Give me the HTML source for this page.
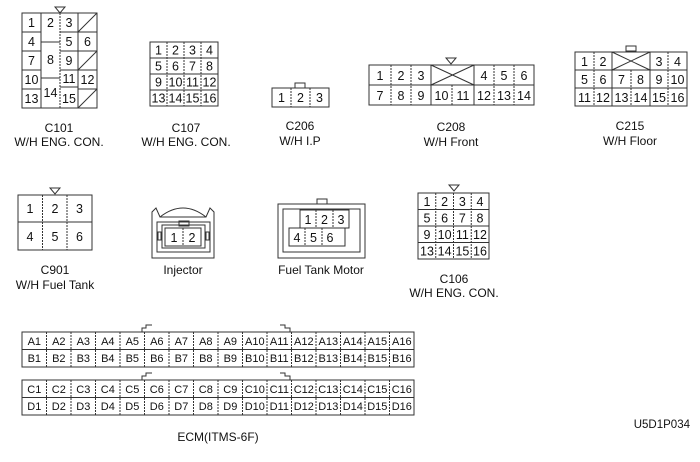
<!DOCTYPE html>
<html><head><meta charset="utf-8"><style>
html,body{margin:0;padding:0;background:#fff}
svg{display:block}
text{font-family:"Liberation Sans",sans-serif;fill:#111}
.g text{font-size:12.5px;text-anchor:middle}
.e text{font-size:11px;text-anchor:middle}
.l{font-size:12px;text-anchor:middle}
line,rect,path,polygon{stroke:#333;stroke-width:1;fill:none}
.d{stroke-dasharray:2,1}
</style></head><body>
<svg width="700" height="462" viewBox="0 0 700 462" xmlns="http://www.w3.org/2000/svg">
<!-- C101 -->
<g class="g">
<rect x="22" y="13" width="75" height="95"/>
<polygon points="55,7 65,7 60,13"/>
<line x1="41" y1="13" x2="41" y2="108"/>
<line class="d" x1="60" y1="13" x2="60" y2="108"/>
<line x1="78" y1="13" x2="78" y2="108"/>
<line x1="22" y1="32" x2="41" y2="32"/><line x1="60" y1="32" x2="97" y2="32"/>
<line x1="22" y1="51" x2="41" y2="51"/><line x1="60" y1="51" x2="97" y2="51"/>
<line x1="22" y1="70" x2="41" y2="70"/><line x1="60" y1="70" x2="97" y2="70"/>
<line x1="22" y1="89" x2="41" y2="89"/><line x1="60" y1="87" x2="78" y2="87"/><line x1="78" y1="89" x2="97" y2="89"/>
<line x1="41" y1="42" x2="60" y2="42"/><line x1="41" y1="78" x2="60" y2="78"/>
<line x1="78" y1="32" x2="97" y2="13"/><line x1="78" y1="70" x2="97" y2="51"/><line x1="78" y1="108" x2="97" y2="89"/>
<text x="31.5" y="27">1</text><text x="50.5" y="27">2</text><text x="69" y="27">3</text>
<text x="31.5" y="46">4</text><text x="69" y="46">5</text><text x="87.5" y="46">6</text>
<text x="31.5" y="65">7</text><text x="50.5" y="64">8</text><text x="69" y="65">9</text>
<text x="31.5" y="84">10</text><text x="50.5" y="97">14</text><text x="69" y="83">11</text><text x="87.5" y="84">12</text>
<text x="31.5" y="103">13</text><text x="69" y="103">15</text>
</g>
<text class="l" x="59" y="132">C101</text><text class="l" x="59" y="146">W/H ENG. CON.</text>
<!-- C107 -->
<g class="g">
<rect x="150" y="42" width="68" height="64"/>
<line class="d" x1="167" y1="42" x2="167" y2="106"/><line class="d" x1="184" y1="42" x2="184" y2="106"/><line class="d" x1="201" y1="42" x2="201" y2="106"/>
<line x1="150" y1="58" x2="218" y2="58"/><line x1="150" y1="74" x2="218" y2="74"/><line x1="150" y1="90" x2="218" y2="90"/>
<text x="158.5" y="54.5">1</text><text x="175.5" y="54.5">2</text><text x="192.5" y="54.5">3</text><text x="209.5" y="54.5">4</text>
<text x="158.5" y="70.5">5</text><text x="175.5" y="70.5">6</text><text x="192.5" y="70.5">7</text><text x="209.5" y="70.5">8</text>
<text x="158.5" y="86.5">9</text><text x="175.5" y="86.5">10</text><text x="192.5" y="86.5">11</text><text x="209.5" y="86.5">12</text>
<text x="158.5" y="102.5">13</text><text x="175.5" y="102.5">14</text><text x="192.5" y="102.5">15</text><text x="209.5" y="102.5">16</text>
</g>
<text class="l" x="186" y="132">C107</text><text class="l" x="186" y="146">W/H ENG. CON.</text>
<!-- C206 -->
<g class="g">
<rect x="272" y="88" width="57" height="19"/><rect x="295" y="83" width="10" height="5"/>
<line class="d" x1="291" y1="88" x2="291" y2="107"/><line class="d" x1="310" y1="88" x2="310" y2="107"/>
<text x="281.5" y="102">1</text><text x="300.5" y="102">2</text><text x="319.5" y="102">3</text>
</g>
<text class="l" x="300" y="130">C206</text><text class="l" x="300" y="145">W/H I.P</text>
<!-- C208 -->
<g class="g">
<rect x="369" y="65" width="165" height="40"/>
<polygon points="446,58 456,58 451,64"/>
<line x1="369" y1="85" x2="534" y2="85"/>
<line class="d" x1="391" y1="65" x2="391" y2="105"/><line class="d" x1="411" y1="65" x2="411" y2="105"/><line x1="431" y1="65" x2="431" y2="105"/>
<line class="d" x1="452" y1="85" x2="452" y2="105"/><line x1="474" y1="65" x2="474" y2="105"/><line class="d" x1="494" y1="65" x2="494" y2="105"/><line class="d" x1="514" y1="65" x2="514" y2="105"/>
<line x1="431" y1="65" x2="474" y2="85"/><line x1="431" y1="85" x2="474" y2="65"/>
<text x="380" y="80">1</text><text x="401" y="80">2</text><text x="421" y="80">3</text><text x="484" y="80">4</text><text x="504" y="80">5</text><text x="524" y="80">6</text>
<text x="380" y="100">7</text><text x="401" y="100">8</text><text x="421" y="100">9</text><text x="441.5" y="100">10</text><text x="463" y="100">11</text><text x="484" y="100">12</text><text x="504" y="100">13</text><text x="524" y="100">14</text>
</g>
<text class="l" x="451" y="131">C208</text><text class="l" x="451" y="146">W/H Front</text>
<!-- C215 -->
<g class="g">
<rect x="575" y="52" width="112" height="54"/><rect x="626" y="46" width="10" height="5"/>
<line x1="575" y1="70" x2="687" y2="70"/><line x1="575" y1="88" x2="687" y2="88"/>
<line class="d" x1="594" y1="52" x2="594" y2="106"/><line x1="612" y1="52" x2="612" y2="106"/><line class="d" x1="631" y1="70" x2="631" y2="106"/><line x1="650" y1="52" x2="650" y2="106"/><line class="d" x1="668" y1="52" x2="668" y2="106"/>
<line x1="612" y1="52" x2="650" y2="70"/><line x1="612" y1="70" x2="650" y2="52"/>
<text x="584.5" y="66">1</text><text x="603" y="66">2</text><text x="659" y="66">3</text><text x="677.5" y="66">4</text>
<text x="584.5" y="84">5</text><text x="603" y="84">6</text><text x="621.5" y="84">7</text><text x="640.5" y="84">8</text><text x="659" y="84">9</text><text x="677.5" y="84">10</text>
<text x="584.5" y="102">11</text><text x="603" y="102">12</text><text x="621.5" y="102">13</text><text x="640.5" y="102">14</text><text x="659" y="102">15</text><text x="677.5" y="102">16</text>
</g>
<text class="l" x="630" y="130">C215</text><text class="l" x="630" y="145">W/H Floor</text>
<!-- C901 -->
<g class="g">
<rect x="18" y="195" width="74" height="55"/><polygon points="50,188 60,188 55,194"/>
<line x1="18" y1="222" x2="92" y2="222"/><line class="d" x1="42.5" y1="195" x2="42.5" y2="250"/><line class="d" x1="67" y1="195" x2="67" y2="250"/>
<text x="30" y="213">1</text><text x="55" y="213">2</text><text x="79.5" y="213">3</text>
<text x="30" y="241">4</text><text x="55" y="241">5</text><text x="79.5" y="241">6</text>
</g>
<text class="l" x="55" y="274">C901</text><text class="l" x="55" y="289">W/H Fuel Tank</text>
<!-- Injector -->
<g class="g">
<path d="M152,258 L152,212 L156,208 L160,217 L206,217 L210,208 L214,212 L214,258 Z"/>
<path d="M160,217 Q183,199 206,217"/>
<rect x="157" y="222" width="53" height="30"/>
<rect x="162" y="225" width="43" height="23"/>
<rect x="179" y="221" width="10" height="5"/>
<rect x="165" y="228" width="36" height="18"/><line class="d" x1="183" y1="228" x2="183" y2="246"/>
<rect x="158" y="232" width="3" height="8"/><rect x="206" y="232" width="3" height="8"/>
<text x="174" y="242">1</text><text x="192" y="242">2</text>
</g>
<text class="l" x="183" y="274">Injector</text>
<!-- Fuel Tank Motor -->
<g class="g">
<rect x="278" y="204" width="87" height="54"/><rect x="283" y="209" width="77" height="43"/>
<rect x="317" y="199" width="10" height="5"/>
<rect x="300" y="210" width="49" height="18"/><line class="d" x1="316" y1="210" x2="316" y2="228"/><line class="d" x1="333" y1="210" x2="333" y2="228"/>
<rect x="289" y="228" width="56" height="18"/><line class="d" x1="305" y1="228" x2="305" y2="246"/><line class="d" x1="322" y1="228" x2="322" y2="246"/>
<text x="308" y="224">1</text><text x="324.5" y="224">2</text><text x="341" y="224">3</text>
<text x="297" y="242">4</text><text x="313.5" y="242">5</text><text x="330" y="242">6</text>
</g>
<text class="l" x="321" y="274">Fuel Tank Motor</text>
<!-- C106 -->
<g class="g">
<rect x="418" y="193" width="71" height="66"/><polygon points="449,185 459,185 454,191"/>
<line class="d" x1="435.75" y1="193" x2="435.75" y2="259"/><line class="d" x1="453.5" y1="193" x2="453.5" y2="259"/><line class="d" x1="471.25" y1="193" x2="471.25" y2="259"/>
<line x1="418" y1="209.5" x2="489" y2="209.5"/><line x1="418" y1="226" x2="489" y2="226"/><line x1="418" y1="242.5" x2="489" y2="242.5"/>
<text x="427" y="206">1</text><text x="444.6" y="206">2</text><text x="462.4" y="206">3</text><text x="480" y="206">4</text>
<text x="427" y="222.5">5</text><text x="444.6" y="222.5">6</text><text x="462.4" y="222.5">7</text><text x="480" y="222.5">8</text>
<text x="427" y="239">9</text><text x="444.6" y="239">10</text><text x="462.4" y="239">11</text><text x="480" y="239">12</text>
<text x="427" y="255.5">13</text><text x="444.6" y="255.5">14</text><text x="462.4" y="255.5">15</text><text x="480" y="255.5">16</text>
</g>
<text class="l" x="454" y="283">C106</text><text class="l" x="454" y="297">W/H ENG. CON.</text>
<!-- ECM -->
<g class="e">
<rect x="22" y="332" width="392" height="35"/><rect x="22" y="380" width="392" height="35"/>
<line x1="22" y1="349.5" x2="414" y2="349.5"/><line x1="22" y1="397.5" x2="414" y2="397.5"/>
<path d="M142,332 L142,328 L146,328 L146,325 L152,325"/><path d="M280,325 L285,325 L285,328 L290,328 L290,332"/>
<path d="M142,380 L142,376 L146,376 L146,373 L152,373"/><path d="M280,373 L285,373 L285,376 L290,376 L290,380"/>
<g class="d">
<line x1="46.5" y1="332" x2="46.5" y2="367"/><line x1="71" y1="332" x2="71" y2="367"/><line x1="95.5" y1="332" x2="95.5" y2="367"/><line x1="120" y1="332" x2="120" y2="367"/><line x1="144.5" y1="332" x2="144.5" y2="367"/><line x1="169" y1="332" x2="169" y2="367"/><line x1="193.5" y1="332" x2="193.5" y2="367"/><line x1="218" y1="332" x2="218" y2="367"/><line x1="242.5" y1="332" x2="242.5" y2="367"/><line x1="267" y1="332" x2="267" y2="367"/><line x1="291.5" y1="332" x2="291.5" y2="367"/><line x1="316" y1="332" x2="316" y2="367"/><line x1="340.5" y1="332" x2="340.5" y2="367"/><line x1="365" y1="332" x2="365" y2="367"/><line x1="389.5" y1="332" x2="389.5" y2="367"/>
<line x1="46.5" y1="380" x2="46.5" y2="415"/><line x1="71" y1="380" x2="71" y2="415"/><line x1="95.5" y1="380" x2="95.5" y2="415"/><line x1="120" y1="380" x2="120" y2="415"/><line x1="144.5" y1="380" x2="144.5" y2="415"/><line x1="169" y1="380" x2="169" y2="415"/><line x1="193.5" y1="380" x2="193.5" y2="415"/><line x1="218" y1="380" x2="218" y2="415"/><line x1="242.5" y1="380" x2="242.5" y2="415"/><line x1="267" y1="380" x2="267" y2="415"/><line x1="291.5" y1="380" x2="291.5" y2="415"/><line x1="316" y1="380" x2="316" y2="415"/><line x1="340.5" y1="380" x2="340.5" y2="415"/><line x1="365" y1="380" x2="365" y2="415"/><line x1="389.5" y1="380" x2="389.5" y2="415"/>
</g>
<text x="34.3" y="345">A1</text><text x="58.8" y="345">A2</text><text x="83.3" y="345">A3</text><text x="107.8" y="345">A4</text><text x="132.3" y="345">A5</text><text x="156.8" y="345">A6</text><text x="181.3" y="345">A7</text><text x="205.8" y="345">A8</text><text x="230.3" y="345">A9</text><text x="254.8" y="345">A10</text><text x="279.3" y="345">A11</text><text x="303.8" y="345">A12</text><text x="328.3" y="345">A13</text><text x="352.8" y="345">A14</text><text x="377.3" y="345">A15</text><text x="401.8" y="345">A16</text>
<text x="34.3" y="362">B1</text><text x="58.8" y="362">B2</text><text x="83.3" y="362">B3</text><text x="107.8" y="362">B4</text><text x="132.3" y="362">B5</text><text x="156.8" y="362">B6</text><text x="181.3" y="362">B7</text><text x="205.8" y="362">B8</text><text x="230.3" y="362">B9</text><text x="254.8" y="362">B10</text><text x="279.3" y="362">B11</text><text x="303.8" y="362">B12</text><text x="328.3" y="362">B13</text><text x="352.8" y="362">B14</text><text x="377.3" y="362">B15</text><text x="401.8" y="362">B16</text>
<text x="34.3" y="393">C1</text><text x="58.8" y="393">C2</text><text x="83.3" y="393">C3</text><text x="107.8" y="393">C4</text><text x="132.3" y="393">C5</text><text x="156.8" y="393">C6</text><text x="181.3" y="393">C7</text><text x="205.8" y="393">C8</text><text x="230.3" y="393">C9</text><text x="254.8" y="393">C10</text><text x="279.3" y="393">C11</text><text x="303.8" y="393">C12</text><text x="328.3" y="393">C13</text><text x="352.8" y="393">C14</text><text x="377.3" y="393">C15</text><text x="401.8" y="393">C16</text>
<text x="34.3" y="410">D1</text><text x="58.8" y="410">D2</text><text x="83.3" y="410">D3</text><text x="107.8" y="410">D4</text><text x="132.3" y="410">D5</text><text x="156.8" y="410">D6</text><text x="181.3" y="410">D7</text><text x="205.8" y="410">D8</text><text x="230.3" y="410">D9</text><text x="254.8" y="410">D10</text><text x="279.3" y="410">D11</text><text x="303.8" y="410">D12</text><text x="328.3" y="410">D13</text><text x="352.8" y="410">D14</text><text x="377.3" y="410">D15</text><text x="401.8" y="410">D16</text>
</g>
<text class="l" x="218" y="441">ECM(ITMS-6F)</text>
<text x="690" y="428" style="font-size:11.5px;text-anchor:end">U5D1P034</text>
</svg>
</body></html>
